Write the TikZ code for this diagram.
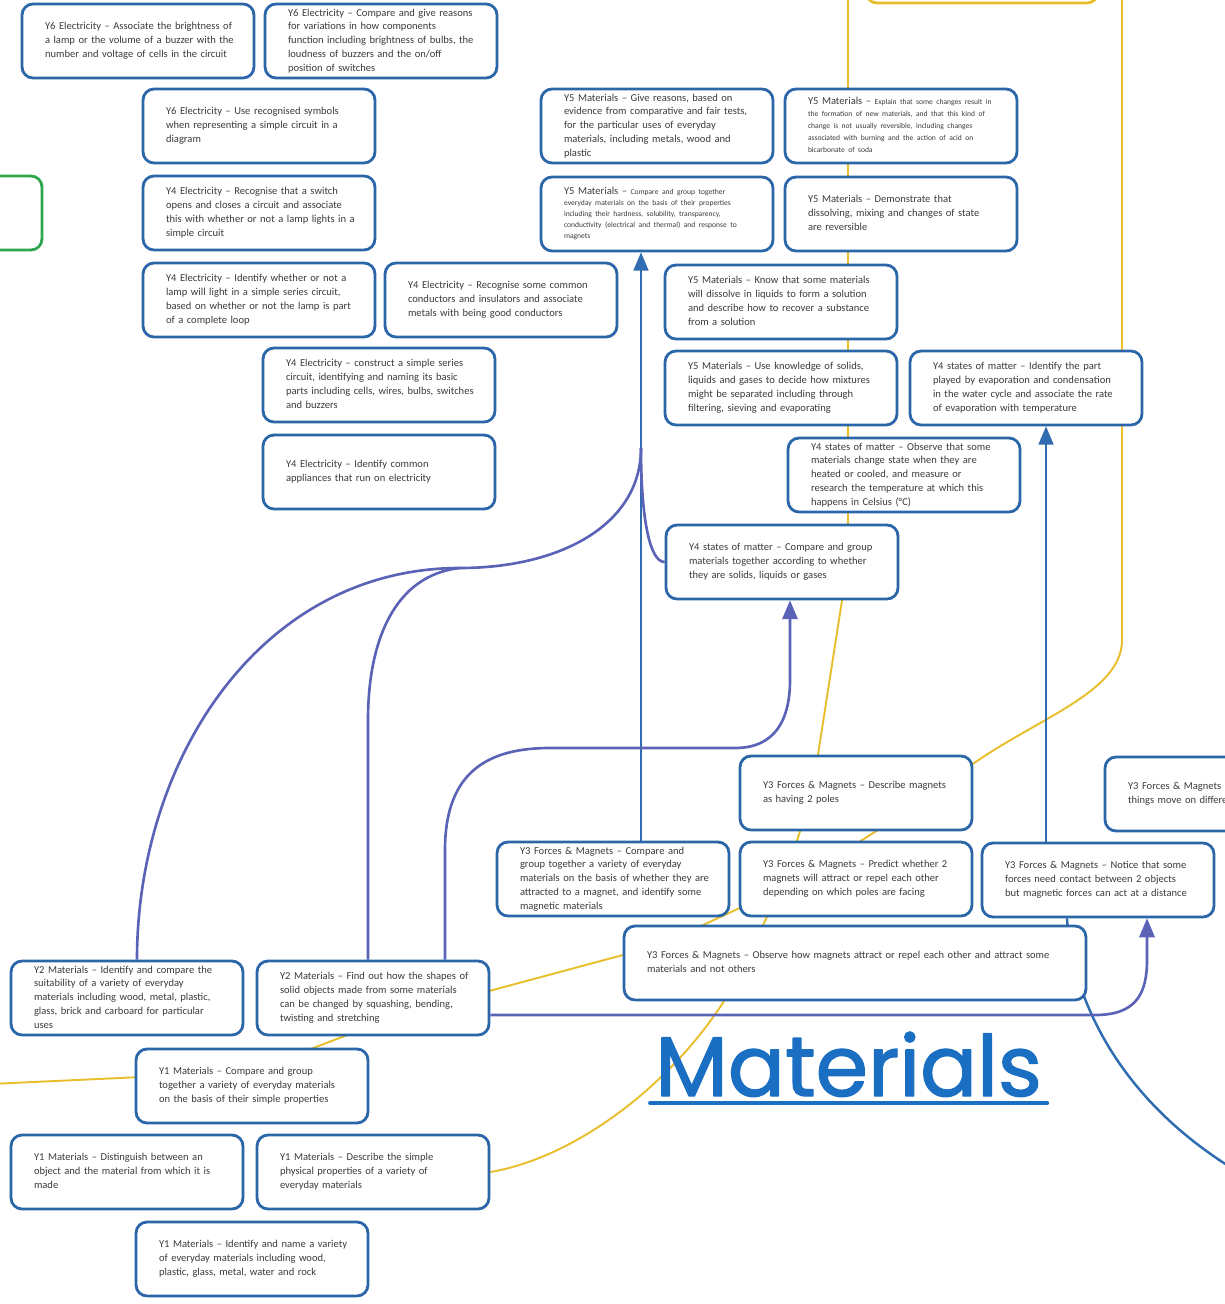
\documentclass[tikz,border=0pt]{standalone}
\usepackage{fontspec}
\setmainfont{Carlito}
\newfontfamily\titlefont[FakeBold=1.6]{Poppins}
\usepackage{tikz}
\usetikzlibrary{arrows,backgrounds}

\definecolor{boxblue}{HTML}{2A66A8}
\definecolor{steelblue}{HTML}{2F6CB0}
\definecolor{purpblue}{HTML}{5B63B7}
\definecolor{goldline}{HTML}{E8BE2C}
\definecolor{leaf}{HTML}{2EA64E}
\definecolor{ink}{HTML}{3B3B3B}
\definecolor{titleblue}{HTML}{1B6FC2}

\newcommand{\skillfont}{\fontsize{6}{7.9}\selectfont}
\newcommand{\tinyfont}{\fontsize{4.3}{6}\selectfont}
\newcommand{\skl}[1]{\begin{tabular}{@{}l@{}}#1\end{tabular}}

\tikzset{
  skill/.style={draw=boxblue,line width=1.6pt,rounded corners=0.22cm,fill=white,
    minimum width=4.64cm,minimum height=1.48cm,text width=3.72cm,inner xsep=0.46cm,
    inner ysep=0pt,align=left,font=\skillfont,text=ink},
  yellowpath/.style={draw=goldline,line width=1.1pt},
  steelpath/.style={draw=steelblue,line width=1.4pt},
  purppath/.style={draw=purpblue,line width=1.5pt},
}

\begin{document}
\begin{tikzpicture}[line cap=round,line join=round,>=triangle 45,x=0.02cm,y=-0.02cm]
        \useasboundingbox (0,0) rectangle (1224,1304);
        \node[skill] (e6a) at (138,41) {\skl{Y6 Electricity – Associate the brightness of\\ a lamp or the volume of a buzzer with the\\ number and voltage of cells in the circuit}};
        \node[skill] (e6b) at (381,41) {\skl{Y6 Electricity – Compare and give reasons\\ for variations in how components\\ function including brightness of bulbs, the\\ loudness of buzzers and the on/off\\ position of switches}};
        \node[skill] (e6c) at (259,126) {\skl{Y6 Electricity – Use recognised symbols\\ when representing a simple circuit in a\\ diagram}};
        \node[skill,draw=leaf] (sidebox) at (-74,213) {};
        \node[skill] (e4a) at (259,213) {\skl{Y4 Electricity – Recognise that a switch\\ opens and closes a circuit and associate\\ this with whether or not a lamp lights in a\\ simple circuit}};
        \node[skill] (e4b) at (259,300) {\skl{Y4 Electricity – Identify whether or not a\\ lamp will light in a simple series circuit,\\ based on whether or not the lamp is part\\ of a complete loop}};
        \node[skill] (e4c) at (501,300) {\skl{Y4 Electricity – Recognise some common\\ conductors and insulators and associate\\ metals with being good conductors}};
        \node[skill] (e4d) at (379,385) {\skl{Y4 Electricity – construct a simple series\\ circuit, identifying and naming its basic\\ parts including cells, wires, bulbs, switches\\ and buzzers}};
        \node[skill] (e4e) at (379,472) {\skl{Y4 Electricity – Identify common\\ appliances that run on electricity}};
        \node[skill,draw=goldline] (topbox) at (982,-34) {};
        \node[skill] (m5a) at (657,126) {\skl{Y5 Materials – Give reasons, based on\\ evidence from comparative and fair tests,\\ for the particular uses of everyday\\ materials, including metals, wood and\\ plastic}};
        \node[skill] (m5b) at (901,126) {\def\arraystretch{0.86}\skl{Y5 Materials – {\tinyfont Explain that some changes result in}\\ \tinyfont the formation of new materials, and that this kind of\\ \tinyfont change is not usually reversible, including changes\\ \tinyfont associated with burning and the action of acid on\\ \tinyfont bicarbonate of soda}};
        \node[skill] (m5c) at (657,214) {\def\arraystretch{0.8}\skl{Y5 Materials – {\tinyfont Compare and group together}\\ \tinyfont everyday materials on the basis of their properties\\ \tinyfont including their hardness, solubility, transparency,\\ \tinyfont conductivity (electrical and thermal) and response to\\ \tinyfont magnets}};
        \node[skill] (m5d) at (901,214) {\skl{Y5 Materials – Demonstrate that\\ dissolving, mixing and changes of state\\ are reversible}};
        \node[skill] (m5e) at (781,302) {\skl{Y5 Materials – Know that some materials\\ will dissolve in liquids to form a solution\\ and describe how to recover a substance\\ from a solution}};
        \node[skill] (m5f) at (781,388) {\skl{Y5 Materials – Use knowledge of solids,\\ liquids and gases to decide how mixtures\\ might be separated including through\\ filtering, sieving and evaporating}};
        \node[skill] (s4a) at (1026,388) {\skl{Y4 states of matter – Identify the part\\ played by evaporation and condensation\\ in the water cycle and associate the rate\\ of evaporation with temperature}};
        \node[skill] (s4b) at (904,475) {\skl{Y4 states of matter – Observe that some\\ materials change state when they are\\ heated or cooled, and measure or\\ research the temperature at which this\\ happens in Celsius (°C)}};
        \node[skill] (s4c) at (782,562) {\skl{Y4 states of matter – Compare and group\\ materials together according to whether\\ they are solids, liquids or gases}};
        \node[skill] (f3a) at (856,793) {\skl{Y3 Forces \& Magnets – Describe magnets\\ as having 2 poles}};
        \node[skill] (f3b) at (1221,794) {\skl{Y3 Forces \& Magnets – Compare how\\ things move on different surfaces}};
        \node[skill] (f3c) at (613,879) {\skl{Y3 Forces \& Magnets – Compare and\\ group together a variety of everyday\\ materials on the basis of whether they are\\ attracted to a magnet, and identify some\\ magnetic materials}};
        \node[skill] (f3d) at (856,879) {\skl{Y3 Forces \& Magnets – Predict whether 2\\ magnets will attract or repel each other\\ depending on which poles are facing}};
        \node[skill] (f3e) at (1098,880) {\skl{Y3 Forces \& Magnets – Notice that some\\ forces need contact between 2 objects\\ but magnetic forces can act at a distance}};
        \node[skill,minimum width=9.24cm,text width=8.32cm] (f3f) at (855,963) {\skl{Y3 Forces \& Magnets – Observe how magnets attract or repel each other and attract some\\ materials and not others}};
        \node[skill] (m2a) at (127,998) {\skl{Y2 Materials – Identify and compare the\\ suitability of a variety of everyday\\ materials including wood, metal, plastic,\\ glass, brick and carboard for particular\\ uses}};
        \node[skill] (m2b) at (373,998) {\skl{Y2 Materials – Find out how the shapes of\\ solid objects made from some materials\\ can be changed by squashing, bending,\\ twisting and stretching}};
        \node[skill] (m1a) at (252,1086) {\skl{Y1 Materials – Compare and group\\ together a variety of everyday materials\\ on the basis of their simple properties}};
        \node[skill] (m1b) at (127,1172) {\skl{Y1 Materials – Distinguish between an\\ object and the material from which it is\\ made}};
        \node[skill] (m1c) at (373,1172) {\skl{Y1 Materials – Describe the simple\\ physical properties of a variety of\\ everyday materials}};
        \node[skill] (m1d) at (252,1259) {\skl{Y1 Materials – Identify and name a variety\\ of everyday materials including wood,\\ plastic, glass, metal, water and rock}};
        \node[anchor=base west,inner sep=0pt,text=titleblue,font=\titlefont\fontsize{48}{52}\selectfont] (title) at (655,1096) {Materials};
        \draw[titleblue,line width=1.8pt] ([xshift=-3pt,yshift=-4pt]title.base west) -- ([xshift=3pt,yshift=-4pt]title.base east);
        \coordinate (trunk) at (641,0);
        \coordinate (fork) at (641,448);
        \coordinate (split) at (460,568);
        \coordinate (rise) at (790,0);
        \coordinate (evap) at (1046,0);
        \coordinate (pull) at (1147,0);
        \coordinate (drop) at (1067,0);
        \begin{pgfonlayer}{background}
            \draw[yellowpath] (848,-10) -- (848,562) -- (812,793) -- (785,879) -- (745,963) .. controls (700,1060) and (590,1155) .. (m1c.east);
            \draw[yellowpath] (1122,-10) -- (1122,640) .. controls (1122,700) and (1010,725) .. (940,790) -- (800,880) -- (660,945) -- (400,1015) -- (250,1072) -- (-10,1084);
            \draw[steelpath,->] (trunk |- f3c.north) -- (trunk |- m5c.south);
            \draw[steelpath,->] (evap |- f3e.north) -- (evap |- s4a.south);
            \draw[steelpath] (drop |- f3e.south) .. controls (1072,1000) and (1120,1100) .. (1235,1170);
            \draw[purppath] (fork) .. controls (641,520) and (650,562) .. (s4c.west);
            \draw[purppath] (fork) .. controls (641,525) and (560,568) .. (split);
            \draw[purppath] (split) .. controls (260,568) and (137,760) .. ([xshift=0.2cm]m2a.north);
            \draw[purppath] (split) .. controls (395,575) and (368,640) .. (368,720) -- ([xshift=-0.1cm]m2b.north);
            \draw[purppath,->] ([xshift=1.44cm]m2b.north) -- (445,850) .. controls (445,770) and (490,748) .. (550,748) -- (735,748) .. controls (775,748) and (790,720) .. (790,680) -- (rise |- s4c.south);
            \draw[purppath,->] ([yshift=-0.34cm]m2b.east) -- (1095,1015) .. controls (1135,1015) and (1147,995) .. (1147,960) -- (pull |- f3e.south);
        \end{pgfonlayer}
\end{tikzpicture}
\end{document}
